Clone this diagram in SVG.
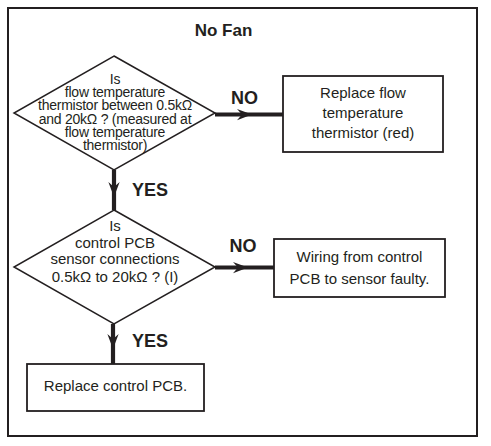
<svg xmlns="http://www.w3.org/2000/svg" width="491" height="446" viewBox="0 0 491 446">
<style>
  .frame { fill: #fff; stroke: #231f20; stroke-width: 2; }
  .box { fill: #fff; stroke: #231f20; stroke-width: 1.8; }
  .dia { fill: #fff; stroke: #231f20; stroke-width: 1.5; }
  .conn { fill: none; stroke: #231f20; stroke-width: 4.2; marker-mid: url(#ah); }
  text { font-family: "Liberation Sans", Arial, sans-serif; fill: #231f20; text-anchor: middle; }
  .t { font-size: 15px; }
  .td { font-size: 14px; letter-spacing: -0.25px; }
  .lbl { font-size: 18px; font-weight: bold; text-anchor: start; }
  .title { font-size: 17px; font-weight: bold; }
</style>
<defs>
  <marker id="ah" markerUnits="userSpaceOnUse" markerWidth="20" markerHeight="20" viewBox="-14 -6 16 12" refX="0" refY="0" orient="auto">
    <path d="M0,0 L-12,-4.5 L-8,0 L-12,4.5 Z" fill="#231f20"/>
  </marker>
</defs>
<rect class="frame" x="8" y="8" width="469" height="428"/>
<text class="title" x="223.5" y="36">No Fan</text>

<g id="connectors">
  <path class="conn" d="M215,114.5 L252,114.5 L283,114.5"/>
  <path class="conn" d="M114,170 L114,197 L114,210"/>
  <path class="conn" d="M215,267.5 L248,267.5 L274,267.5"/>
  <path class="conn" d="M113,324 L113,349 L113,364"/>
  <text class="lbl" x="231" y="104">NO</text>
  <text class="lbl" x="132" y="196">YES</text>
  <text class="lbl" x="229.5" y="252">NO</text>
  <text class="lbl" x="132" y="347">YES</text>
</g>

<g id="q1">
  <polygon class="dia" points="114,56 215,113 114,170 14,113"/>
  <text class="td" x="115" y="84">Is</text>
  <text class="td" x="115" y="97.2">flow temperature</text>
  <text class="td" x="115" y="110.4">thermistor between 0.5kΩ</text>
  <text class="td" x="115" y="123.6">and 20kΩ ? (measured at</text>
  <text class="td" x="115" y="136.8">flow temperature</text>
  <text class="td" x="115" y="150">thermistor)</text>
</g>

<g id="r1">
  <rect class="box" x="283" y="76" width="160" height="76"/>
  <text class="t" x="363" y="97.5">Replace flow</text>
  <text class="t" x="363" y="117.8">temperature</text>
  <text class="t" x="363" y="138">thermistor (red)</text>
</g>

<g id="q2">
  <polygon class="dia" points="114,210 215,267 114,324 14,267"/>
  <text class="t" x="115" y="230.7">Is</text>
  <text class="t" x="115" y="247.7">control PCB</text>
  <text class="t" x="115" y="264.3">sensor connections</text>
  <text class="t" x="115" y="281.7">0.5kΩ to 20kΩ ? (I)</text>
</g>

<g id="r2">
  <rect class="box" x="274" y="239" width="171" height="58"/>
  <text class="t" x="359.5" y="262.3">Wiring from control</text>
  <text class="t" x="359.5" y="284">PCB to sensor faulty.</text>
</g>

<g id="r3">
  <rect class="box" x="27" y="364" width="177" height="47"/>
  <text class="t" x="115.5" y="391">Replace control PCB.</text>
</g>
</svg>
